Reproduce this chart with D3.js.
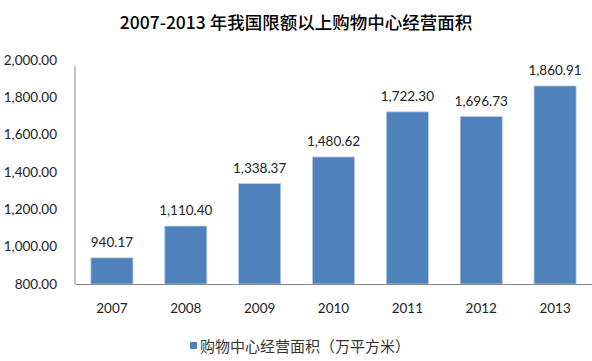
<!DOCTYPE html>
<html><head><meta charset="utf-8">
<script src="https://cdn.jsdelivr.net/npm/d3@7"></script>
<style>body{margin:0;background:#fff;}svg{display:block;}</style>
</head><body>
<svg id="c" width="592" height="361"></svg>
<script>
const categories = ["2007","2008","2009","2010","2011","2012","2013"];
const values = [940.17,1110.40,1338.37,1480.62,1722.30,1696.73,1860.91];
const yTicks = [800,1000,1200,1400,1600,1800,2000];
const title = "2007-2013 年我国限额以上购物中心经营面积";
const seriesName = "购物中心经营面积（万平方米）";

(function(){
const svg = d3.select("#c");
const mLeft = 75, mRight = 592, mTop = 60, mBottom = 284;
const x = d3.scaleBand().domain(categories).range([mLeft, mRight]).paddingInner(0.43).paddingOuter(0.215);
const y = d3.scaleLinear().domain([800, 2000]).range([mBottom, mTop]);
const numFont = "Lato, 'Open Sans', sans-serif";
const fmt = d3.format(",.2f");

svg.append("text").attr("x", 296).attr("y", 28.5).attr("text-anchor", "middle")
  .attr("font-family", "'Noto Sans CJK SC', sans-serif").attr("font-size", 17.5).attr("font-weight", 500)
  .attr("fill", "#000").text(title);

const ya = svg.append("g").attr("transform", `translate(${mLeft},0)`)
  .call(d3.axisLeft(y).tickValues(yTicks).tickFormat(fmt).tickSize(0).tickPadding(18));
ya.select(".domain").attr("stroke", "#868686").attr("d", `M0,${y(2000)+6}V${mBottom}`);
ya.selectAll("text").attr("font-family", numFont).attr("font-size", 13.5).attr("fill", "#222");

svg.append("g").selectAll("rect").data(values).join("rect")
  .attr("x", (d,i) => x(categories[i])).attr("width", x.bandwidth())
  .attr("y", d => y(d)).attr("height", d => mBottom - y(d))
  .attr("fill", "#4F81BD").attr("stroke", "#B9CDE5").attr("stroke-width", 0.8);

const xa = svg.append("g").attr("transform", `translate(0,${mBottom})`)
  .call(d3.axisBottom(x).tickSize(0).tickPadding(19));
xa.select(".domain").attr("stroke", "#868686");
xa.selectAll("text").attr("font-family", numFont).attr("font-size", 13.5).attr("fill", "#222");

svg.append("g").selectAll("text").data(values).join("text")
  .attr("x", (d,i) => x(categories[i]) + x.bandwidth()/2).attr("y", d => y(d) - 11)
  .attr("text-anchor", "middle").attr("font-family", numFont).attr("font-size", 13.5).attr("fill", "#222")
  .text(d => fmt(d));

const lg = svg.append("g").attr("transform", "translate(190,346)");
lg.append("rect").attr("x", 0).attr("y", -4).attr("width", 7).attr("height", 7).attr("fill", "#4F81BD");
lg.append("text").attr("x", 10).attr("y", 5.5).attr("font-family", "'Noto Sans CJK SC', sans-serif")
  .attr("font-size", 15).attr("fill", "#333").text(seriesName);
})();
</script>
</body></html>
